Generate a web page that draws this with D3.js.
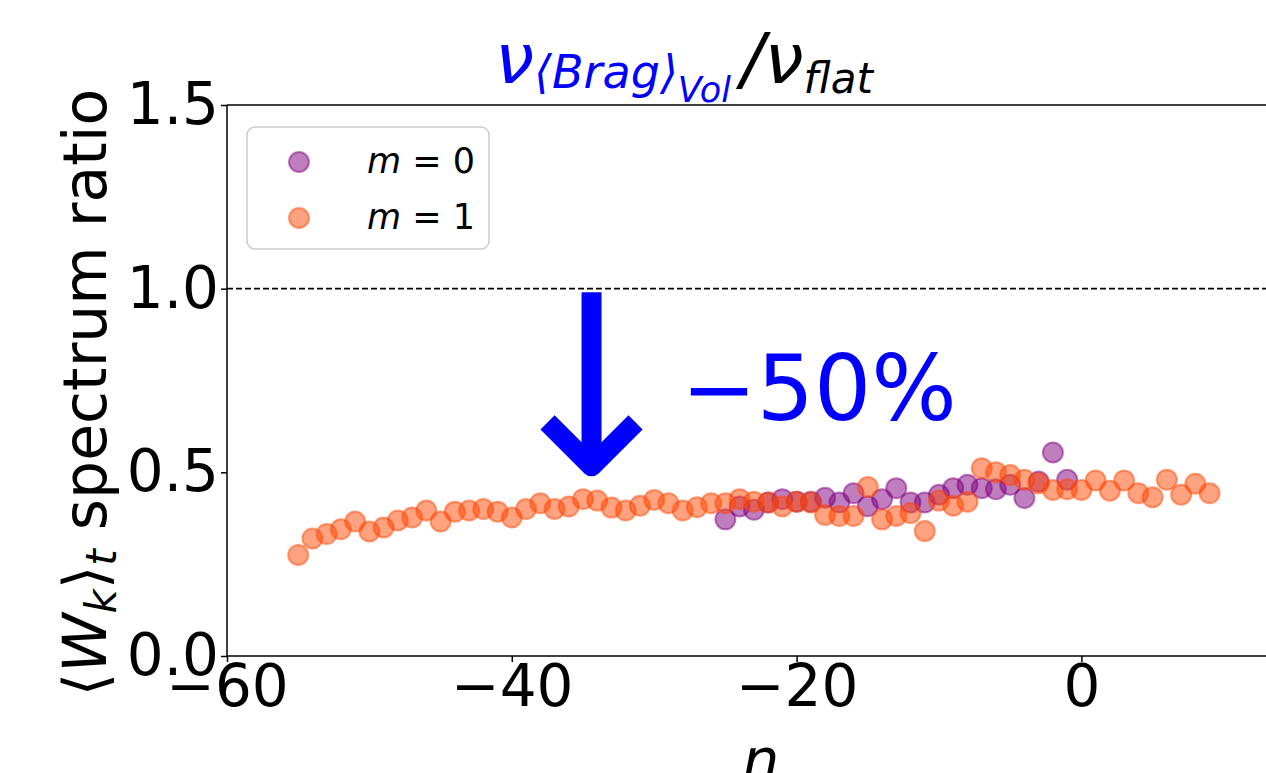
<!DOCTYPE html>
<html>
<head>
<meta charset="utf-8">
<script src="https://cdn.jsdelivr.net/npm/d3@7"></script>
<style>
  html, body { margin: 0; padding: 0; background: #fff; overflow: hidden; }
  svg { display: block; font-family: "DejaVu Sans", sans-serif; }
</style>
</head>
<body>
<svg id="chart" width="1266" height="773"></svg>
<script>
// Mode index n for each series
const nM0 = d3.range(-25, 0);   // -25 .. -1
const nM1 = d3.range(-55, 10);  // -55 .. 9

// Time-averaged spectrum ratio, m = 0
const ratioM0 = [
  0.372, 0.407, 0.398, 0.418, 0.427, 0.420, 0.420, 0.431, 0.418, 0.443,
  0.408, 0.427, 0.457, 0.418, 0.418, 0.439, 0.457, 0.466, 0.457, 0.454,
  0.466, 0.430, 0.475, 0.554, 0.480
];

// Time-averaged spectrum ratio, m = 1
const ratioM1 = [
  0.275, 0.320, 0.332, 0.345, 0.366, 0.339, 0.350, 0.369, 0.377, 0.396,
  0.366, 0.393, 0.396, 0.400, 0.393, 0.377, 0.400, 0.416, 0.400, 0.407,
  0.427, 0.423, 0.404, 0.396, 0.409, 0.425, 0.416, 0.396, 0.405, 0.416,
  0.416, 0.427, 0.420, 0.418, 0.407, 0.420, 0.418, 0.384, 0.381, 0.381,
  0.460, 0.372, 0.381, 0.389, 0.340, 0.423, 0.409, 0.420, 0.511, 0.500,
  0.493, 0.480, 0.470, 0.452, 0.454, 0.452, 0.478, 0.450, 0.478, 0.443,
  0.432, 0.480, 0.439, 0.469, 0.443
];

const seriesNames = ["m = 0", "m = 1"];
const xTicks = [-60, -40, -20, 0];
const yTicks = [0.0, 0.5, 1.0, 1.5];
const referenceLevel = 1.0;
const changeLabel = "\u221250%";

const svg = d3.select("#chart");
const margin = { left: 227, top: 105 };
const plotW = 1068, plotH = 551;

const x = d3.scaleLinear().domain([-60, 15]).range([0, plotW]);
const y = d3.scaleLinear().domain([0, 1.5]).range([plotH, 0]);

const colors = { m0: "#800080", m1: "#ff4500" };

const g = svg.append("g").attr("transform", `translate(${margin.left},${margin.top})`);

// Axes
const tickFont = 58;
const xAxis = g.append("g")
  .attr("transform", `translate(0,${plotH})`)
  .call(d3.axisBottom(x).tickValues(xTicks).tickSize(6).tickPadding(3).tickFormat(d3.format("d")));
const yAxis = g.append("g")
  .call(d3.axisLeft(y).tickValues(yTicks).tickSize(6).tickPadding(2).tickFormat(d3.format(".1f")));

[xAxis, yAxis].forEach(a => {
  a.selectAll("text").attr("font-size", tickFont).attr("font-family", "DejaVu Sans").attr("fill", "#000");
  a.selectAll("line").attr("stroke", "#000").attr("stroke-width", 1.5);
  a.select(".domain").remove();
});

// Frame
const frame = [[0, 0, 0, plotH], [0, 0, plotW, 0], [0, plotH, plotW, plotH], [plotW, 0, plotW, plotH]];
frame.forEach(([x1, y1, x2, y2]) => {
  g.append("line").attr("x1", x1).attr("y1", y1).attr("x2", x2).attr("y2", y2)
    .attr("stroke", "#000").attr("stroke-width", 1.5);
});

// Reference line at ratio 1
g.append("line")
  .attr("x1", 0).attr("x2", plotW)
  .attr("y1", y(referenceLevel)).attr("y2", y(referenceLevel))
  .attr("stroke", "#000").attr("stroke-width", 1.8).attr("stroke-dasharray", "6,3");

// Scatter points
const r = 10;
function scatter(ns, vals, color) {
  g.append("g").selectAll("circle")
    .data(ns.map((n, i) => ({ n, v: vals[i] })))
    .join("circle")
    .attr("cx", d => x(d.n))
    .attr("cy", d => y(d.v))
    .attr("r", r)
    .attr("fill", color).attr("fill-opacity", 0.5)
    .attr("stroke", color).attr("stroke-opacity", 0.5).attr("stroke-width", 2);
}
scatter(nM0, ratioM0, colors.m0);
scatter(nM1, ratioM1, colors.m1);

// Downward arrow annotation from the reference line to the data level
const arrowX = x(-34.4);
const arrowTop = y(0.99), arrowTip = y(0.5);
g.append("path")
  .attr("d", `M${arrowX},${arrowTop} L${arrowX},${arrowTip - 8}`)
  .attr("stroke", "#0000ff").attr("stroke-width", 20).attr("fill", "none");
g.append("path")
  .attr("d", `M${arrowX - 44},${arrowTip - 50} L${arrowX},${arrowTip - 6} L${arrowX + 44},${arrowTip - 50}`)
  .attr("stroke", "#0000ff").attr("stroke-width", 20).attr("fill", "none")
  .attr("stroke-linejoin", "round");

g.append("text")
  .attr("x", x(-28.1)).attr("y", y(0.643))
  .attr("font-size", 90).attr("fill", "#0000ff")
  .text(changeLabel);

// Legend
const leg = svg.append("g").attr("transform", "translate(247,127)");
leg.append("rect").attr("width", 242).attr("height", 122).attr("rx", 8)
  .attr("fill", "#fff").attr("fill-opacity", 0.8).attr("stroke", "#cccccc").attr("stroke-width", 1.5);
[colors.m0, colors.m1].forEach((c, i) => {
  leg.append("circle").attr("cx", 52).attr("cy", 35 + i * 56).attr("r", r)
    .attr("fill", c).attr("fill-opacity", 0.5)
    .attr("stroke", c).attr("stroke-opacity", 0.5).attr("stroke-width", 2);
  const parts = seriesNames[i].split(" = ");
  const t = leg.append("text").attr("x", 120).attr("y", 46 + i * 56).attr("font-size", 35);
  t.append("tspan").attr("font-style", "italic").text(parts[0]);
  t.append("tspan").text(" = " + parts[1]);
});

// Title
const title = svg.append("text").attr("x", 495).attr("y", 83)
  .attr("text-anchor", "start").attr("font-style", "italic");
title.append("tspan").attr("fill", "#0000ff").attr("font-size", 70).text("\u03bd");
title.append("tspan").attr("fill", "#0000ff").attr("font-size", 46).attr("dy", 5).text("\u27e8Brag\u27e9");
title.append("tspan").attr("fill", "#0000ff").attr("font-size", 35).attr("dy", 14).text("Vol");
title.append("tspan").attr("fill", "#000").attr("font-size", 70).attr("dy", -19).attr("dx", 10).text("/\u03bd");
title.append("tspan").attr("fill", "#000").attr("font-size", 42).attr("dy", 10).text("flat");

// Y axis label
const yl = svg.append("text")
  .attr("transform", `translate(106,${margin.top + plotH / 2 + 12}) rotate(-90)`)
  .attr("text-anchor", "middle").attr("font-size", 60);
yl.append("tspan").text("\u27e8");
yl.append("tspan").attr("font-style", "italic").text("W");
yl.append("tspan").attr("font-style", "italic").attr("font-size", 42).attr("dy", 10).text("k");
yl.append("tspan").attr("dy", -10).text("\u27e9");
yl.append("tspan").attr("font-style", "italic").attr("font-size", 42).attr("dy", 10).text("t");
yl.append("tspan").attr("dy", -10).text(" spectrum ratio");

// X axis label
svg.append("text")
  .attr("x", margin.left + plotW / 2).attr("y", 780)
  .attr("text-anchor", "middle").attr("font-size", 58).attr("font-style", "italic")
  .text("n");
</script>
</body>
</html>
